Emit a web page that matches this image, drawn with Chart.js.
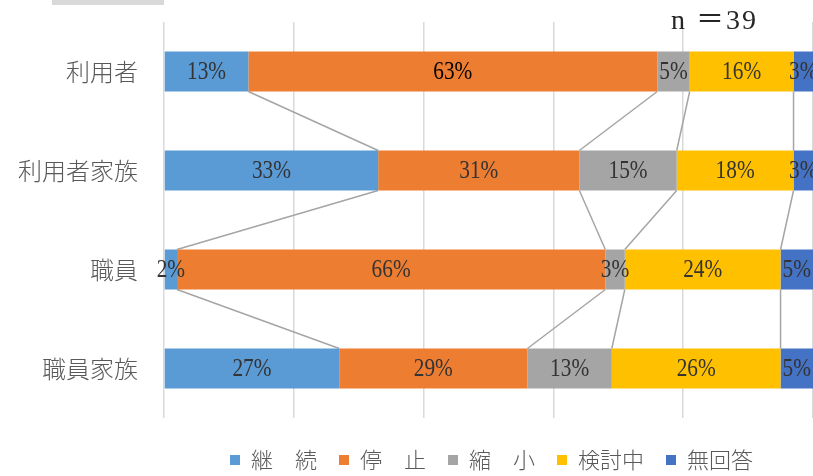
<!DOCTYPE html>
<html>
<head>
<meta charset="utf-8">
<script src="https://cdn.jsdelivr.net/npm/chart.js"></script>
<style>
  body { margin: 0; background: #fff; }
  #wrap { width: 813px; height: 476px; position: relative; }
</style>
</head>
<body>
<div id="wrap"><canvas id="myChart"></canvas></div>
<script>
const categories = ['利用者', '利用者家族', '職員', '職員家族'];
const seriesNames = ['継　続', '停　止', '縮　小', '検討中', '無回答'];
const keizoku = [13, 33, 2, 27];
const teishi = [63, 31, 66, 29];
const shukusho = [5, 15, 3, 13];
const kentou = [16, 18, 24, 26];
const mukaitou = [3, 3, 5, 5];
const sampleNote = 'n ＝39';

const colors = ['#5b9bd5', '#ed7d31', '#a5a5a5', '#ffc000', '#4472c4'];
const values = [keizoku, teishi, shukusho, kentou, mukaitou];

// grey connector lines between neighbouring bars (Excel "series lines")
const seriesLines = {
  id: 'seriesLines',
  beforeDatasetsDraw(chart) {
    const ctx = chart.ctx;
    ctx.save();
    ctx.strokeStyle = '#a5a5a5';
    ctx.lineWidth = 1.5;
    for (let d = 0; d < chart.data.datasets.length - 1; d++) {
      const bars = chart.getDatasetMeta(d).data;
      for (let i = 0; i < bars.length - 1; i++) {
        const a = bars[i], b = bars[i + 1];
        ctx.beginPath();
        ctx.moveTo(a.x, a.y + a.height / 2);
        ctx.lineTo(b.x, b.y - b.height / 2);
        ctx.stroke();
      }
    }
    ctx.restore();
  }
};

const barLabels = {
  id: 'barLabels',
  afterDatasetsDraw(chart) {
    const ctx = chart.ctx;
    ctx.save();
    ctx.font = '26px "Liberation Serif"';
    ctx.textAlign = 'center';
    ctx.textBaseline = 'middle';
    chart.data.datasets.forEach((ds, d) => {
      chart.getDatasetMeta(d).data.forEach((bar, i) => {
        const v = ds.data[i];
        ctx.fillStyle = (d === 1 && i === 0) ? '#000' : '#333';
        ctx.save();
        ctx.translate((bar.x + bar.base) / 2, bar.y + 1);
        ctx.scale(0.82, 1);
        ctx.fillText(v + '%', 0, 0);
        ctx.restore();
      });
    });
    ctx.restore();
  }
};

// nudge legend down/right to where the original sits
const legendShift = {
  id: 'legendShift',
  afterLayout(chart) {
    const lg = chart.legend;
    lg.top += 9; lg.bottom += 9;
    lg.left += 3; lg.right += 3;
  }
};

const extras = {
  id: 'extras',
  afterDraw(chart) {
    const ctx = chart.ctx;
    ctx.save();
    ctx.fillStyle = '#d9d9d9';
    ctx.fillRect(52, 0, 112, 5);
    ctx.fillStyle = '#262626';
    ctx.font = '28px "Liberation Serif", "Noto Sans CJK JP"';
    ctx.letterSpacing = '2px';
    ctx.textAlign = 'left';
    ctx.textBaseline = 'middle';
    ctx.fillText(sampleNote, 671, 22);
    ctx.restore();
  }
};

new Chart(document.getElementById('myChart'), {
  type: 'bar',
  data: {
    labels: categories,
    datasets: seriesNames.map((name, k) => ({
      label: name,
      data: values[k],
      backgroundColor: colors[k],
      borderWidth: 0,
      barPercentage: 0.404,
      categoryPercentage: 1
    }))
  },
  plugins: [seriesLines, barLabels, legendShift, extras],
  options: {
    indexAxis: 'y',
    responsive: true,
    maintainAspectRatio: false,
    animation: false,
    layout: { padding: { top: 22, right: 0, bottom: 4, left: 0 } },
    scales: {
      x: {
        stacked: true,
        min: 0,
        max: 100,
        ticks: { display: false, stepSize: 20 },
        grid: { color: '#d9d9d9', lineWidth: 1.5, drawTicks: false },
        border: { display: false },
        afterFit: (scale) => { scale.height = 0; }
      },
      y: {
        stacked: true,
        ticks: {
          color: '#595959',
          padding: 26,
          font: { family: '"Noto Sans CJK JP"', size: 24, weight: 300 }
        },
        grid: { display: false, drawTicks: false },
        border: { display: false },
        afterFit: (scale) => {
          scale.width = 164;
          scale.paddingTop = 0;
          scale.paddingBottom = 0;
        }
      }
    },
    plugins: {
      legend: {
        position: 'bottom',
        fullSize: false,
        labels: {
          color: '#595959',
          boxWidth: 10,
          boxHeight: 10,
          padding: 22,
          font: { family: '"Noto Sans CJK JP"', size: 22, weight: 300 }
        }
      },
      tooltip: { enabled: false }
    }
  }
});
</script>
</body>
</html>
